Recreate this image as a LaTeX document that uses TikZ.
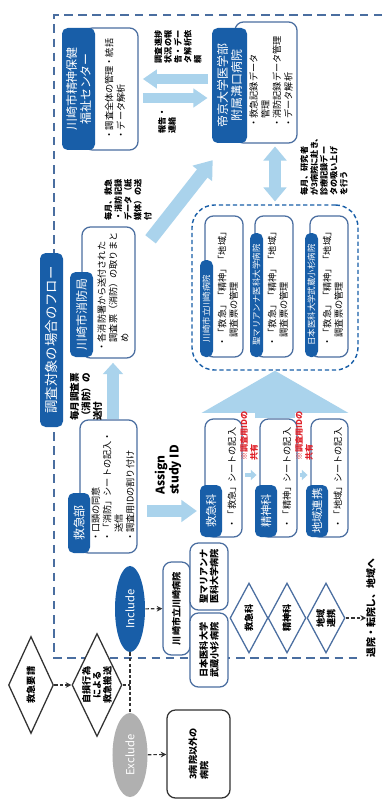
\documentclass[tikz,border=0pt]{standalone}
\usepackage{fontspec}
\setmainfont{Noto Sans CJK JP}
\usetikzlibrary{shapes.geometric,arrows.meta,fit}

\definecolor{navy}{RGB}{24,94,168}
\definecolor{frame}{RGB}{74,110,160}
\definecolor{flow}{RGB}{170,211,236}
\definecolor{alert}{RGB}{224,34,42}
\definecolor{exgrey}{RGB}{176,176,176}
\definecolor{ink}{RGB}{50,50,50}

\tikzset{
  panel/.style={draw=frame, fill=white, line width=0.9pt, rounded corners=6pt, inner sep=0pt, fit={#1}},
  tab/.style={fill=navy, rounded corners=4pt, inner sep=0pt, fit={#1}},
  txt/.style={rotate=90, align=left, inner sep=0pt, font=\fontsize{6.5}{8.2}\selectfont},
  ttl/.style={rotate=90, align=center, inner sep=0pt, text=white, font=\fontsize{8.5}{10}\selectfont},
  note/.style={rotate=90, align=left, inner sep=0pt, font=\bfseries\fontsize{5.8}{7}\selectfont},
  fat/.style={draw=flow, line width=#1},
  hollow/.style={diamond, rotate=90, draw=frame, fill=white, line width=0.9pt, inner sep=0pt, align=center, font=\bfseries\fontsize{6.5}{7.5}\selectfont},
  dasharrow/.style={draw=ink, thick, dash pattern=on 2.5pt off 1.5pt, -{Stealth[length=4pt,width=4pt]}},
  dashline/.style={draw=ink, thick, dash pattern=on 2.5pt off 1.5pt},
  frameline/.style={draw=frame, line width=1.1pt, dash pattern=on 6pt off 4pt},
  cluster/.style={draw=navy, line width=1pt, dash pattern=on 3pt off 2pt, rounded corners=16pt, inner sep=0pt, fit={#1}}
}

\begin{document}
\begin{tikzpicture}[x=0.025cm, y=-0.025cm]
\useasboundingbox (0,0) rectangle (382,800);
\fill[white] (0,0) rectangle (382,800);

\draw[frameline] (382,15) -- (54,15) -- (54,658) -- (362,658);

\node[tab={(40,253) (63,427)}] (bar) {};
\node[ttl, font=\fontsize{9.5}{11}\selectfont] (bartxt) at (bar) {調査対象の場合のフロー};

\node[panel={(84,28) (138,150)}] (msc) {};
\node[tab={(62,28) (95,150)}] (tmsc) {};
\node[ttl] (nmsc) at (tmsc) {川崎市精神保健\\福祉センター};
\node[txt] (imsc) at (115,89) {・調査全体の管理・統括\\・データ解析};

\node[panel={(235,22) (297,143)}] (tky) {};
\node[tab={(212,28) (247,143)}] (ttky) {};
\node[ttl] (ntky) at (ttky) {帝京大学医学部\\附属溝口病院};
\node[txt] (itky) at (271,82) {・救急記録データ\\　管理\\・消防記録データ管理\\・データ解析};

\draw[fat=7pt, -{Triangle[length=10pt,width=13pt]}, shorten <=3pt, shorten >=3pt] (ttky.west |- 0,79) -- (msc.east |- 0,79);
\draw[fat=7pt, -{Triangle[length=10pt,width=13pt]}, shorten <=3pt, shorten >=3pt] (msc.east |- 0,98) -- (ttky.west |- 0,98);
\node[note] (lbreq) at (178,47) {調査進捗\\状況の報\\告・デー\\タ解析依\\頼};
\node[note] (lbrep) at (167,121) {報告・\\連絡};

\node[panel={(82,227) (135,358)}] (kfd) {};
\node[tab={(70,272) (93,357)}] (tkfd) {};
\node[ttl] (nkfd) at (tkfd) {川崎市消防局};
\node[txt] (ikfd) at (113,292) {・各消防署から送付された\\　調査票（消防）の取りまと\\　め};

\draw[fat=9.5pt, -{Triangle[length=12pt,width=17pt]}] ([xshift=10.6pt,yshift=-9.2pt]kfd.north east) -- ([xshift=0.7pt,yshift=-12pt]ttky.south west);
\node[note] (lbpaper) at (128,200) {毎月、救急\\・消防記録\\データ（紙\\媒体）の送\\付};

\node[panel={(80,420) (137,553)}] (er) {};
\node[tab={(68,493) (90,553)}] (ter) {};
\node[ttl] (nerd) at (ter) {救急部};
\node[txt] (ier) at (113,487) {・口頭の同意\\・「消防」シートの記入・\\　送信\\・調査用IDの割り付け};
\draw[fat=9pt, -{Triangle[length=8pt,width=14pt]}, shorten >=3pt] (er.north -| 113,0) -- (kfd.south -| 113,0);
\node[note, font=\bfseries\fontsize{6.8}{8.2}\selectfont] (lbsheet) at (86,397) {毎月調査票\\（消防）の\\送付};
\node[note, font=\bfseries\fontsize{8.5}{10}\selectfont] (lbid) at (168,470) {Assign\\study ID};

\node[cluster={(192,205) (358,370)}] (grp) {};
\draw[fat=8.5pt, {Triangle[length=10pt,width=16pt]}-{Triangle[length=10pt,width=16pt]}, shorten <=2pt, shorten >=2pt] (tky.south -| grp.north) -- (grp.north);
\node[note] (lbvisit) at (324,165) {毎月、研究者\\が3病院に赴き、\\診療記録デー\\タの吸い上げ\\を行う};

\foreach \n/\x/\ytab/\hosp in {hpa/200/260/川崎市立川崎病院, hpb/250/233/聖マリアンナ医科大学病院, hpc/305/233/日本医科大学武蔵小杉病院} {
  \node[panel={(\x+5,216) (\x+43,357)}] (\n) {};
  \node[tab={(\x,\ytab) (\x+13,357)}] (t\n) {};
  \node[ttl, font=\fontsize{6}{7}\selectfont] (n\n) at (t\n) {\hosp};
  \node[txt] (i\n) at (\x+28,287) {・「救急」「精神」「地域」\\　調査票の管理};
}

\draw[fat=28pt, -{Triangle[length=30pt,width=103pt]}] (grp.south |- 0,418) -- (grp.south);

\foreach \n/\x/\dept/\sheet in {erd/200/救急科/救急, psy/255/精神科/精神, com/306/地域連携/地域} {
  \node[panel={(\x+5,419) (\x+42,537)}] (\n) {};
  \node[tab={(\x,485) (\x+22,537)}] (t\n) {};
  \node[ttl, font=\fontsize{8}{9}\selectfont] (n\n) at (t\n) {\dept};
  \node[txt] (i\n) at (\x+32,478) {・「\sheet」シートの記入};
}

\draw[fat=8.5pt, -{Triangle[length=11pt,width=15pt]}, shorten <=7pt, shorten >=2pt] (er.east |- 0,511) -- (terd.west |- 0,511);
\draw[fat=3pt, -{Triangle[length=4pt,width=7pt]}, shorten <=2pt, shorten >=2pt] (erd.east |- 0,475) -- (psy.west |- 0,475);
\draw[fat=3pt, -{Triangle[length=4pt,width=7pt]}, shorten <=2pt, shorten >=2pt] (psy.east |- 0,475) -- (com.west |- 0,475);
\node[note, text=alert] (lbshare1) at (249,436) {※調査用IDの\\共有};
\node[note, text=alert] (lbshare2) at (304,436) {※調査用IDの\\共有};

\node[hollow, draw=ink, aspect=2.1, minimum width=2.425cm, minimum height=1.125cm] (call) at (31,685) {救急要請};
\node[hollow, draw=ink, aspect=2.1, minimum width=2.575cm, minimum height=1.25cm] (self) at (97,685) {自損行為\\による\\救急搬送};
\node[ellipse, rotate=90, fill=navy, text=white, minimum width=2.15cm, minimum height=0.75cm, inner sep=0pt, font=\fontsize{8}{9}\selectfont] (inc) at (130,609) {Include};
\node[ellipse, rotate=90, fill=exgrey, text=white, minimum width=2.1cm, minimum height=0.875cm, inner sep=0pt, font=\fontsize{8}{9}\selectfont] (exc) at (130,755) {Exclude};
\draw[dasharrow] (call) -- (self);
\draw[dashline] (self) -- (self -| inc);
\draw[dashline] (inc) -- (exc);

\node[panel={(163,562) (190,655)}] (kwb) {};
\node[txt, align=center, font=\bfseries\fontsize{6.5}{7.5}\selectfont] (nkwb) at (kwb) {川崎市立川崎病院};
\node[panel={(190,543) (228,610)}] (smb) {};
\node[txt, align=center, font=\bfseries\fontsize{6.5}{7.5}\selectfont] (nsmb) at (smb) {聖マリアンナ\\医科大学病院};
\node[panel={(190,613) (228,687)}] (nmb) {};
\node[txt, align=center, font=\bfseries\fontsize{6.5}{7.5}\selectfont] (nnmb) at (nmb) {日本医科大学\\武蔵小杉病院};
\draw[dasharrow] (inc) -- (kwb);

\node[panel={(167,710) (230,798)}, draw=ink] (oth) {};
\node[txt, font=\bfseries\fontsize{6.5}{8}\selectfont] (noth) at (oth) {3病院以外の\\病院};
\draw[dasharrow] (exc) -- (oth);

\node[hollow, aspect=1.85, minimum width=1.75cm, minimum height=0.95cm] (dera) at (249,618) {救急科};
\node[hollow, aspect=1.85, minimum width=1.75cm, minimum height=0.95cm] (dpsy) at (287,618) {精神科};
\node[hollow, aspect=1.85, minimum width=1.75cm, minimum height=0.95cm] (dcom) at (326,618) {地域\\連携};
\node[note, font=\bfseries\fontsize{7}{8}\selectfont] (dis) at (371,608) {退院・転院し、地域へ};
\draw[dasharrow] (dcom) -- (dcom -| dis.north);

\end{tikzpicture}
\end{document}
